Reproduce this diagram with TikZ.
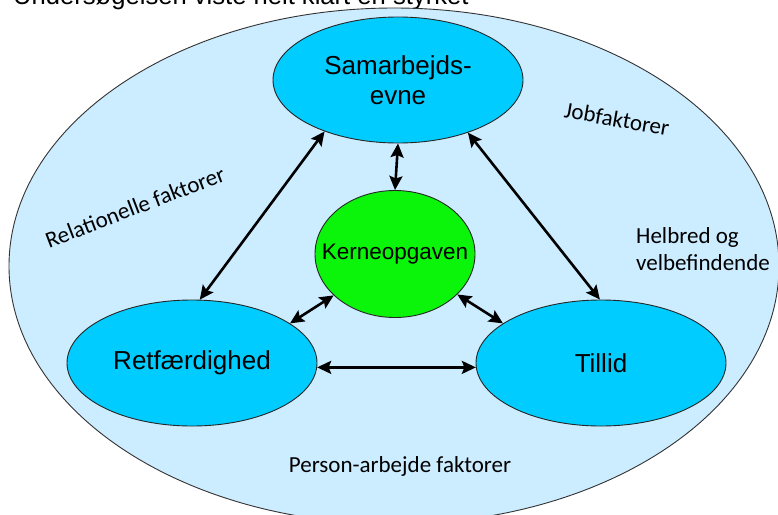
\documentclass[tikz,border=0pt]{standalone}
\usepackage{fontspec}
\setmainfont{Liberation Sans}
\newfontfamily\calibri{Carlito}
\usetikzlibrary{shapes.geometric,arrows.meta}

\definecolor{bagblaa}{RGB}{204,236,255}
\definecolor{cyanblaa}{RGB}{0,204,255}
\definecolor{kernegroen}{RGB}{10,245,10}

\tikzset{
  felt/.style={ellipse,draw=black!85,line width=0.9pt,fill=cyanblaa,inner sep=0pt,
    minimum width=250pt,minimum height=126pt,font=\fontsize{26}{30}\selectfont,align=center},
  faktor/.style={font=\calibri\fontsize{23}{27}\selectfont,inner sep=0pt},
  pil/.style={<->,line width=2.6pt}
}

\begin{document}
\begin{tikzpicture}[x=1pt,y=-1pt,>={Stealth[length=14pt,width=13pt,inset=2.5pt]}]
  \clip (0,0) rectangle (778,514);
  \fill[white] (0,0) rectangle (778,514);
  \node[anchor=base west,inner sep=0pt,font=\fontsize{25.6}{30}\selectfont] (overskrift) at (13,4.5) {Undersøgelsen viste helt klart en styrket};
  \draw[draw=black!80,line width=0.9pt,fill=bagblaa] (394,266) ellipse (385 and 258);

  \node[felt] (sam) at (398,80) {Samarbejds-\\evne};
  \node[felt] (ret) at (192,363) {Retfærdighed};
  \node[felt] (til) at (601,363) {Tillid};
  \node[ellipse,draw=black!85,line width=0.9pt,fill=kernegroen,inner ysep=0pt,inner xsep=-24pt,
    minimum width=160pt,minimum height=127pt,font=\fontsize{22.5}{26}\selectfont] (kerne) at (395,254) {Kerneopgaven};

  \draw[pil] (sam.215) -- (ret.83);
  \draw[pil] (sam.-37) -- (til.91);
  \draw[pil] (sam.south) -- (kerne.north);
  \draw[pil] (kerne.214) -- (ret.22);
  \draw[pil] (kerne.-33) -- (til.158);
  \draw[pil] (ret.-2.5) -- (til.182.5);

  \node[faktor,rotate=21] (rel) at (135,207) {Relationelle faktorer};
  \node[faktor,rotate=-10] (job) at (617,119) {Jobfaktorer};
  \node[faktor,anchor=west,align=left] (helbred) at (636,249) {Helbred og\\velbefindende};
  \node[faktor] (person) at (400,466) {Person-arbejde faktorer};
\end{tikzpicture}
\end{document}
